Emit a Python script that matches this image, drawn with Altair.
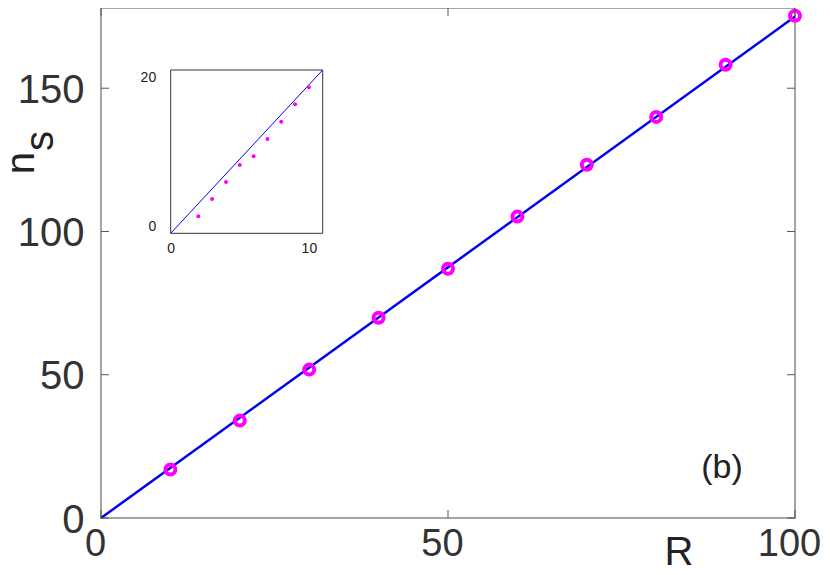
import altair as alt
import pandas as pd

# ---- main panel data ----
main_R = [10, 20, 30, 40, 50, 60, 70, 80, 90, 100]
main_ns = [16.9, 34.0, 51.8, 69.9, 87.0, 105.2, 123.3, 140.0, 158.2, 175.3]
fit_R = [0, 100]
fit_ns = [0, 175]
x_ticks = [0, 50, 100]
y_ticks = [0, 50, 100, 150]

# ---- inset data ----
inset_R = [2, 3, 4, 5, 6, 7, 8, 9, 10]
inset_ns = [2.29, 4.62, 6.91, 9.2, 10.38, 12.7, 15.04, 17.39, 19.68]
inset_fit_R = [0, 11]
inset_fit_ns = [0, 22]
inset_x_ticks = [0, 10]
inset_y_ticks = [0, 20]

W, H = 694, 510
TXT = "#333333"
FONT = "Liberation Sans"

xs = alt.Scale(domain=[0, 100], nice=False, zero=False)
ys = alt.Scale(domain=[0, 178], nice=False, zero=False)

xax = alt.Axis(values=x_ticks, title=None, ticks=False, tickSize=0, domain=False, format="d",
               labelFontSize=38, labelFont=FONT, labelColor=TXT, labelPadding=7,
               labelOffset=-6, labelFlush=False, grid=False, orient="bottom")
yax = alt.Axis(values=y_ticks, title=None, ticks=False, tickSize=0, domain=False, format="d",
               labelFontSize=40, labelFont=FONT, labelColor=TXT, labelPadding=17,
               labelFlush=False, labelOffset=2, grid=False, orient="left")

main_df = pd.DataFrame({"R": main_R, "ns": main_ns})
fit_df = pd.DataFrame({"R": fit_R, "ns": fit_ns})
xt_df = pd.DataFrame({"R": x_ticks})
yt_df = pd.DataFrame({"ns": y_ticks})

line = alt.Chart(fit_df).mark_line(color="#0000ee", strokeWidth=2.5).encode(
    x=alt.X("R:Q", scale=xs, axis=xax),
    y=alt.Y("ns:Q", scale=ys, axis=yax),
)
points = alt.Chart(main_df).mark_point(shape="circle", filled=False, color="#ff00ff",
                                       strokeWidth=4, size=100, opacity=1).encode(
    x=alt.X("R:Q", scale=xs),
    y=alt.Y("ns:Q", scale=ys),
)
TICK = "#555555"
xt_bot = alt.Chart(xt_df).mark_rule(color=TICK, strokeWidth=1).encode(
    x=alt.X("R:Q", scale=xs), y=alt.value(H), y2=alt.value(H - 8))
xt_top = alt.Chart(xt_df).mark_rule(color=TICK, strokeWidth=1).encode(
    x=alt.X("R:Q", scale=xs), y=alt.value(0), y2=alt.value(8))
yt_left = alt.Chart(yt_df).mark_rule(color=TICK, strokeWidth=1).encode(
    y=alt.Y("ns:Q", scale=ys), x=alt.value(0), x2=alt.value(8))
yt_right = alt.Chart(yt_df).mark_rule(color=TICK, strokeWidth=1).encode(
    y=alt.Y("ns:Q", scale=ys), x=alt.value(W), x2=alt.value(W - 8))

lab_b = alt.Chart(pd.DataFrame({"t": ["(b)"]})).mark_text(
    fontSize=34, font=FONT, color="#222222", align="center", baseline="middle"
).encode(text="t:N", x=alt.value(621), y=alt.value(460))
lab_R = alt.Chart(pd.DataFrame({"t": ["R"]})).mark_text(
    fontSize=40, font=FONT, color="#222222", align="center", baseline="alphabetic"
).encode(text="t:N", x=alt.value(578), y=alt.value(557))
lab_n = alt.Chart(pd.DataFrame({"t": ["n"]})).mark_text(
    fontSize=40, font=FONT, color="#222222", align="center", baseline="middle", angle=270
).encode(text="t:N", x=alt.value(-79), y=alt.value(155))
lab_s = alt.Chart(pd.DataFrame({"t": ["s"]})).mark_text(
    fontSize=40, font=FONT, color="#222222", align="center", baseline="middle", angle=270
).encode(text="t:N", x=alt.value(-60), y=alt.value(133))

main = alt.layer(line, points, xt_bot, xt_top, yt_left, yt_right, lab_b, lab_R, lab_n, lab_s)

# ---- inset ----
ixs = alt.Scale(domain=[0, 11], range=[69.7, 221.7], nice=False, zero=False)
iys = alt.Scale(domain=[0, 22], range=[225.3, 62], nice=False, zero=False)
ixax = alt.Axis(values=inset_x_ticks, title=None, ticks=False, tickSize=0, domain=False, format="d",
                labelFontSize=14, labelFont=FONT, labelColor="#222222", labelPadding=8,
                labelFlush=False, grid=False, orient="bottom", offset=-284.7)
iyax = alt.Axis(values=inset_y_ticks, title=None, ticks=False, tickSize=0, domain=False, format="d",
                labelFontSize=14, labelFont=FONT, labelColor="#222222", labelPadding=15,
                labelFlush=False, labelOffset=-7, grid=False, orient="left", offset=-69.7)

box_df = pd.DataFrame({"r0": [inset_fit_R[0]], "r1": [inset_fit_R[1]],
                       "n0": [inset_fit_ns[0]], "n1": [inset_fit_ns[1]]})
ibox = alt.Chart(box_df).mark_rect(fill="white", stroke="#333333", strokeWidth=1).encode(
    x=alt.X("r0:Q", scale=ixs, axis=ixax), x2="r1:Q",
    y=alt.Y("n0:Q", scale=iys, axis=iyax), y2="n1:Q",
)
iline = alt.Chart(pd.DataFrame({"r0": inset_fit_R, "n0": inset_fit_ns})).mark_line(
    color="#0000ff", strokeWidth=1).encode(
    x=alt.X("r0:Q", scale=ixs), y=alt.Y("n0:Q", scale=iys))
idots = alt.Chart(pd.DataFrame({"r0": inset_R, "n0": inset_ns})).mark_point(
    shape="circle", filled=True, color="#ff00ff", size=16, opacity=1).encode(
    x=alt.X("r0:Q", scale=ixs), y=alt.Y("n0:Q", scale=iys))

inset = alt.layer(ibox, iline, idots)

chart = alt.layer(main, inset).resolve_scale(
    x="independent", y="independent"
).properties(
    width=W, height=H,
    autosize=alt.AutoSizeParams(type="none"),
    padding={"left": 93, "top": 0, "right": 27, "bottom": 49},
    background="white",
).configure_view(stroke="#888888", strokeWidth=1.5)

chart.save("out.html", embed_options={"renderer": "svg", "actions": False})
